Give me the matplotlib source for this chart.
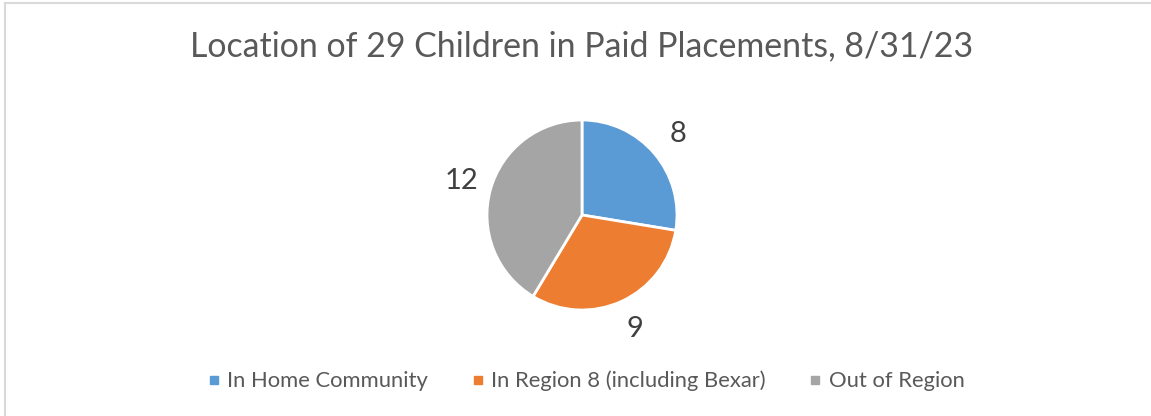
import matplotlib
matplotlib.use("Agg")
import matplotlib.pyplot as plt
from matplotlib.lines import Line2D

plt.rcParams['font.family'] = ['Lato', 'DejaVu Sans']

title = "Location of 29 Children in Paid Placements, 8/31/23"
categories = ["In Home Community", "In Region 8 (including Bexar)", "Out of Region"]
counts = [8, 9, 12]
colors = ['#5B9BD5', '#ED7D31', '#A5A5A5']
text_color = '#595959'

W, H = 1151, 416
fig = plt.figure(figsize=(W / 100, H / 100), dpi=100)

# chart border (only left and top edges are visible in the crop)
fig.add_artist(Line2D([5 / W, 5 / W], [0, 1 - 2.5 / H], color='#D9D9D9', lw=1.5))
fig.add_artist(Line2D([5 / W, 1], [1 - 2.5 / H, 1 - 2.5 / H], color='#D9D9D9', lw=1.5))

fig.text(582 / W, 1 - 46 / H, title, ha='center', va='center', fontsize=24.4, color=text_color)

cx, cy, r = 582, 215, 95
ax = fig.add_axes([(cx - r) / W, (H - cy - r) / H, 2 * r / W, 2 * r / H])
wedges, texts = ax.pie(
	counts,
	labels=[str(c) for c in counts],
	colors=colors,
	startangle=90,
	counterclock=False,
	labeldistance=1.32,
	wedgeprops=dict(edgecolor='white', linewidth=2),
	textprops=dict(fontsize=21, color='#404040'),
)
for t in texts:
	t.set_ha('center')
	t.set_va('center')
	t.set_clip_on(False)
ax.set_xlim(-1, 1)
ax.set_ylim(-1, 1)
ax.set_aspect('equal')
ax.axis('off')

handles = [
	Line2D([], [], marker='s', linestyle='', markersize=5.2, markerfacecolor=c, markeredgecolor=c)
	for c in colors
]
fig.legend(
	handles, categories,
	loc='center', bbox_to_anchor=(587 / W, 1 - 381 / H),
	ncol=3, frameon=False, fontsize=15.8,
	handlelength=0.4, handletextpad=0.42, columnspacing=2.05,
	labelcolor=text_color,
)

fig.savefig('out.png', dpi=100)
